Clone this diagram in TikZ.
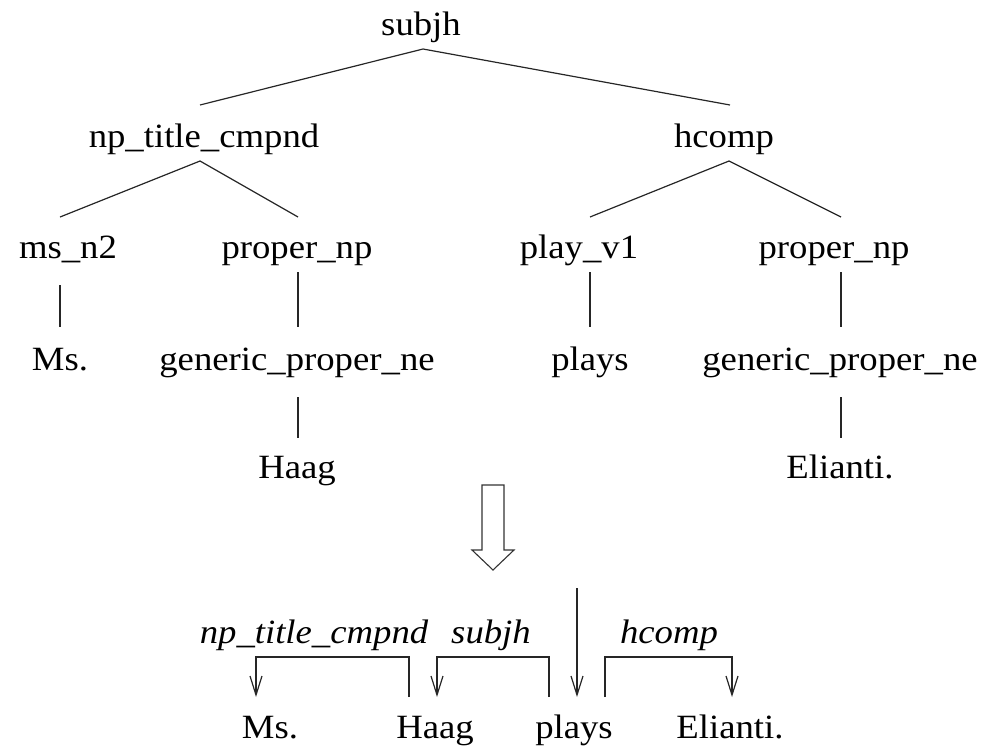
\documentclass[tikz,border=0pt]{standalone}
\usepackage{fontspec}
\setmainfont{Liberation Serif}[FakeStretch=1.08]
\usetikzlibrary{arrows.meta}

\begin{document}
\begin{tikzpicture}[x=1pt,y=-1pt,
  every node/.style={inner sep=0pt, outer sep=0pt, anchor=base,
    text height=24pt, text depth=8pt, font=\fontsize{34}{40}\selectfont},
  lbl/.style={font=\fontsize{34}{40}\selectfont\itshape},
  branch/.style={line width=1.2pt, draw=black!85},
  dep/.style={line width=1.2pt, draw=black!85,
    -{Straight Barb[length=19pt,width=12pt,line width=1.2pt]}},
  deparc/.style={line width=1.2pt, draw=black!85, rounded corners=0pt},
]
\path[use as bounding box] (0,0) rectangle (1003,747);

% ---- phrase-structure tree ----
\node (subjh) at (421,35) {subjh};
\node (ntc)   at (204,147) {np\_title\_cmpnd};
\node (hcomp) at (724,147) {hcomp};
\node (msn)   at (68,258)  {ms\_n2};
\node (pnpA)  at (297,258) {proper\_np};
\node (playv) at (579,258) {play\_v1};
\node (pnpB)  at (834,258) {proper\_np};
\node (ms1)   at (60,370)  {Ms.};
\node (gpnA)  at (297,370) {generic\_proper\_ne};
\node (plays1) at (590,370) {plays};
\node (gpnB)  at (840,370) {generic\_proper\_ne};
\node (haag1) at (297,478) {Haag};
\node (eli1)  at (840,478) {Elianti.};

\draw[branch] ([xshift=-4pt,yshift=18pt]ntc.north) -- ([xshift=2pt,yshift=-6pt]subjh.south)
  -- ([xshift=6pt,yshift=18pt]hcomp.north);
\draw[branch] ([xshift=-8pt,yshift=17pt]msn.north) -- ([xshift=-4pt,yshift=-6pt]ntc.south)
  -- ([xshift=1pt,yshift=17pt]pnpA.north);
\draw[branch] ([xshift=11pt,yshift=17pt]playv.north) -- ([xshift=5pt,yshift=-6pt]hcomp.south)
  -- ([xshift=7pt,yshift=17pt]pnpB.north);
\draw[branch] ([xshift=-8pt,yshift=-19pt]msn.south) -- ([yshift=19pt]ms1.north);
\draw[branch] ([xshift=1pt,yshift=-6pt]pnpA.south) -- ([xshift=1pt,yshift=19pt]gpnA.north);
\draw[branch] ([xshift=11pt,yshift=-6pt]playv.south) -- ([yshift=19pt]plays1.north);
\draw[branch] ([xshift=7pt,yshift=-6pt]pnpB.south) -- ([xshift=1pt,yshift=19pt]gpnB.north);
\draw[branch] ([xshift=1pt,yshift=-19pt]gpnA.south) -- ([xshift=1pt,yshift=16pt]haag1.north);
\draw[branch] ([xshift=1pt,yshift=-19pt]gpnB.south) -- ([xshift=1pt,yshift=16pt]eli1.north);

% ---- hollow conversion arrow ----
\draw[line width=1.1pt, draw=black!80, fill=white]
  (482,485) -- (504,485) -- (504,550) -- (514,550) -- (493,570)
  -- (472,550) -- (482,550) -- cycle;

% ---- dependency structure ----
\node (ms2)    at (270,738) {Ms.};
\node (haag2)  at (435,738) {Haag};
\node (plays2) at (574,738) {plays};
\node (eli2)   at (730,738) {Elianti.};

\node[lbl] (lntc)   at (314,643) {np\_title\_cmpnd};
\node[lbl] (lsubjh) at (491,643) {subjh};
\node[lbl] (lhcomp) at (669,643) {hcomp};

\coordinate (root) at (577,588);
\draw[dep] (root) -- ([xshift=3pt,yshift=17pt]plays2.north);

\draw[dep] ([xshift=-26pt,yshift=17pt]haag2.north) -- ++(0,-40)
  -| ([xshift=-14pt,yshift=17pt]ms2.north);
\draw[dep] ([xshift=-25pt,yshift=17pt]plays2.north) -- ++(0,-40)
  -| ([xshift=2pt,yshift=17pt]haag2.north);
\draw[dep] ([xshift=31pt,yshift=17pt]plays2.north) -- ++(0,-40)
  -| ([xshift=2pt,yshift=17pt]eli2.north);
\end{tikzpicture}
\end{document}
